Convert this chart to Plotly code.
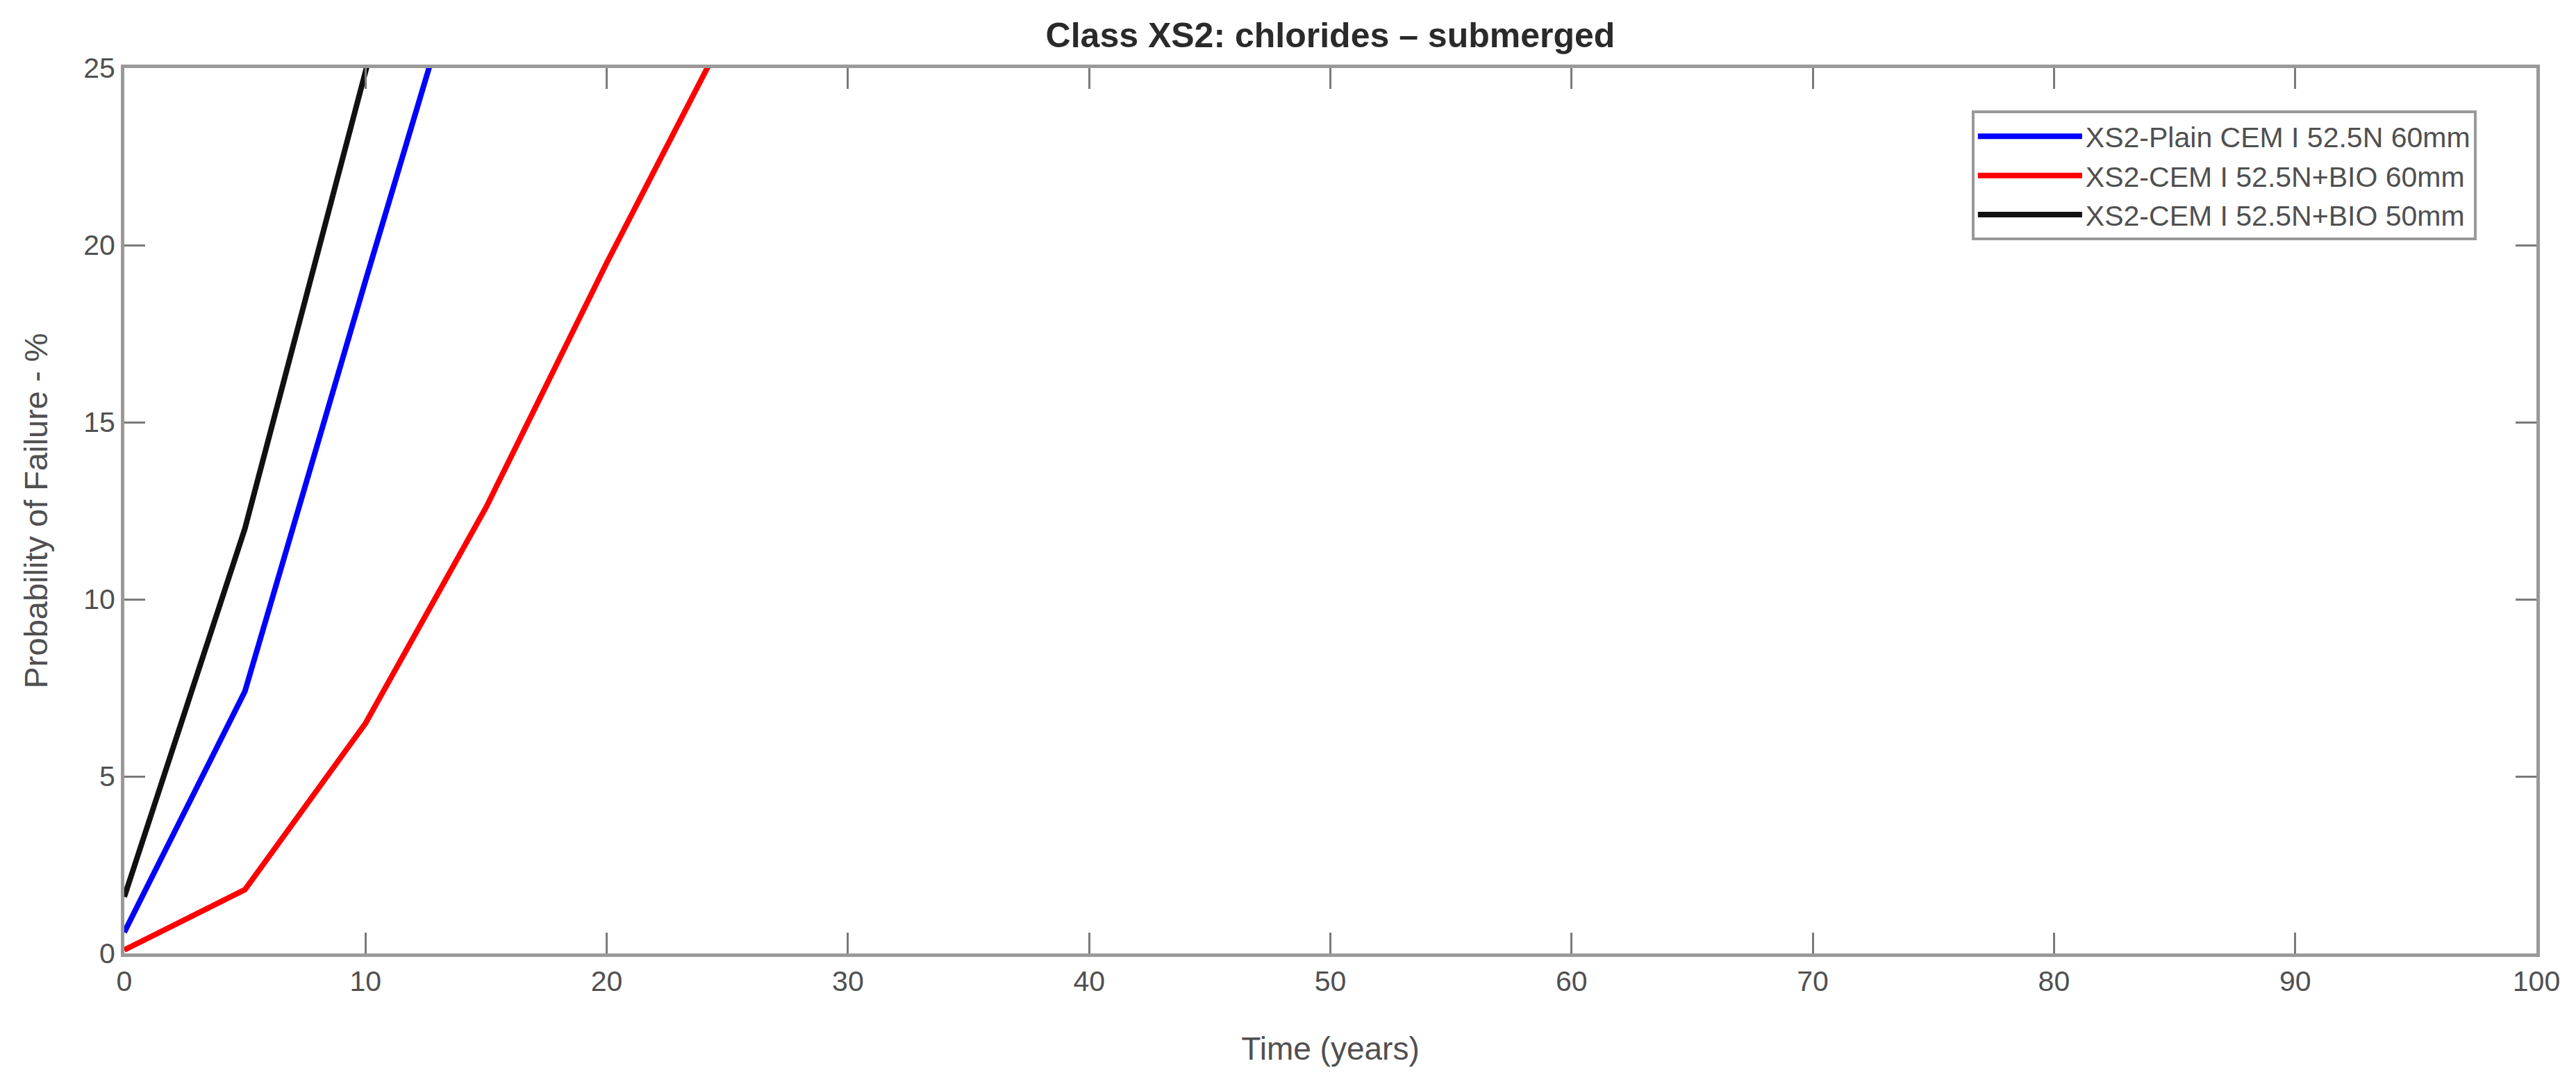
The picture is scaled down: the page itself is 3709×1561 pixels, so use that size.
import plotly.graph_objects as go

# time in years
years_plain = [0, 5, 10, 15]
plain_60mm = [0.6, 7.4, 19.0, 30.4]

years_bio60 = [0, 5, 10, 15, 20, 25]
bio_60mm = [0.1, 1.8, 6.5, 12.6, 19.5, 26.1]

years_bio50 = [0, 5, 10, 15]
bio_50mm = [1.6, 12.0, 24.9, 38.0]

series_names = [
    "XS2-Plain CEM I 52.5N 60mm",
    "XS2-CEM I 52.5N+BIO 60mm",
    "XS2-CEM I 52.5N+BIO 50mm",
]
x_ticks = [0, 10, 20, 30, 40, 50, 60, 70, 80, 90, 100]
y_ticks = [0, 5, 10, 15, 20, 25]

FONT = "Liberation Sans, Arial, sans-serif"
AXIS_COLOR = "#999999"
TEXT_COLOR = "#505050"

fig = go.Figure()
fig.add_trace(go.Scatter(x=years_plain, y=plain_60mm, mode="lines",
                         name=series_names[0],
                         line=dict(color="#0000ff", width=8)))
fig.add_trace(go.Scatter(x=years_bio60, y=bio_60mm, mode="lines",
                         name=series_names[1],
                         line=dict(color="#ff0000", width=8)))
fig.add_trace(go.Scatter(x=years_bio50, y=bio_50mm, mode="lines",
                         name=series_names[2],
                         line=dict(color="#111111", width=8)))

axis_style = dict(showline=True, linecolor=AXIS_COLOR, linewidth=5, mirror="ticks",
                  ticks="inside", ticklen=30, tickwidth=3, tickcolor="#7a7a7a",
                  showgrid=False, zeroline=False,
                  tickfont=dict(family=FONT, size=41, color=TEXT_COLOR))

fig.update_xaxes(range=[0, 100], tickvals=x_ticks,
                 title=dict(text="Time (years)", standoff=60,
                            font=dict(family=FONT, size=46, color=TEXT_COLOR)),
                 **axis_style)
fig.update_yaxes(range=[0, 25], tickvals=y_ticks,
                 title=dict(text="Probability of Failure - %", standoff=38,
                            font=dict(family=FONT, size=47, color=TEXT_COLOR)),
                 **axis_style)

fig.update_layout(
    width=3709, height=1561,
    margin=dict(l=171, r=65, t=90, b=196),
    paper_bgcolor="white", plot_bgcolor="white",
    title=dict(text="<b>Class XS2: chlorides – submerged</b>", x=0.5, xanchor="center",
               xref="paper", yref="container", y=0.973, yanchor="middle",
               font=dict(family=FONT, size=50, color="#2a2a2a")),
    legend=dict(x=0.9752, y=0.952, xanchor="right", yanchor="top",
                bgcolor="white", bordercolor=AXIS_COLOR, borderwidth=4,
                font=dict(family=FONT, size=41, color=TEXT_COLOR),
                itemwidth=150, tracegroupgap=0),
    showlegend=True,
)

fig.write_html("out.html")
